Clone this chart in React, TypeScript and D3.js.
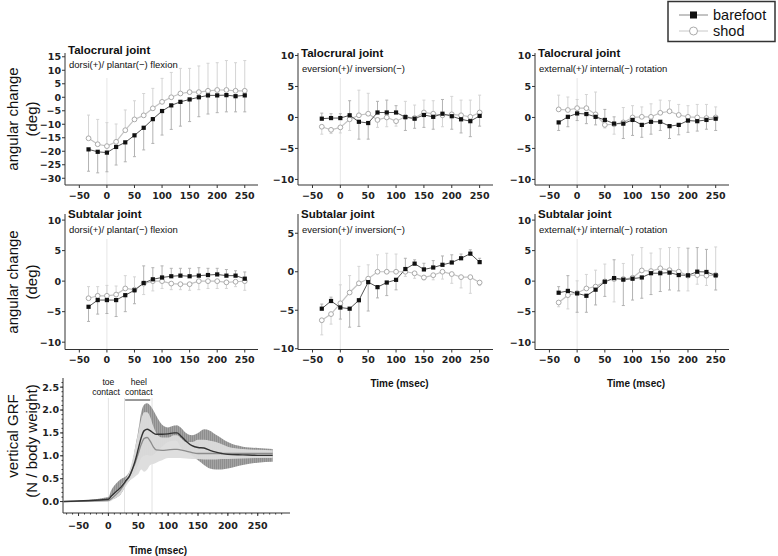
import React from 'react';
import * as d3 from 'd3';

// ---------- DATA ----------
const timePts = [-33.3, -16.7, 0, 16.7, 33.3, 50, 66.7, 83.3, 100, 116.7, 133.3, 150, 166.7, 183.3, 200, 216.7, 233.3, 250];
const xTickVals = [-50, 0, 50, 100, 150, 200, 250];

// Talocrural dorsi/plantar flexion
const tcFlexBare = [-19.3, -20.2, -20.5, -18.4, -16.7, -14.1, -11.3, -8.1, -5.1, -3.0, -1.7, -0.8, 0.0, 0.7, 0.7, 0.8, 0.4, 0.7];
const tcFlexBareSd = [8.1, 7.8, 7.1, 6.7, 7.2, 7.9, 8.2, 9.0, 8.9, 8.9, 9.0, 8.2, 7.2, 6.9, 6.4, 6.2, 5.8, 6.1];
const tcFlexShod = [-15.2, -17.4, -18.1, -16.5, -12.2, -8.2, -6.7, -4.1, -1.7, 0.0, 1.4, 1.9, 1.9, 2.4, 2.7, 2.7, 2.4, 2.4];
const tcFlexShodSd = [8.6, 9.2, 8.7, 6.6, 7.5, 6.9, 8.1, 7.4, 8.7, 9.2, 9.3, 8.8, 9.7, 10.2, 10.1, 10.9, 10.4, 11.2];

// Talocrural eversion/inversion
const tcEvBare = [-0.2, -0.1, -0.1, 0.35, -0.7, -0.9, 0.8, 0.8, 0.8, 0.05, -0.2, 0.4, 0.1, 0.6, 0.2, -0.3, -0.6, 0.25];
const tcEvBareSd = [0.9, 0.7, 0.7, 2.35, 2.8, 2.6, 1.8, 2.0, 1.1, 2.15, 1.55, 2.0, 2.0, 2.3, 2.1, 2.2, 2.5, 1.65];
const tcEvShod = [-1.5, -2.0, -1.6, -0.3, 0.35, 0.6, -0.4, 0.0, -0.6, 0.1, -0.1, 0.8, 0.6, 0.35, 0.5, 0.35, 0.1, 0.8];
const tcEvShodSd = [1.2, 0.6, 0.9, 1.8, 4.05, 3.3, 1.2, 1.5, 0.8, 2.5, 2.1, 2.0, 2.1, 1.85, 2.9, 2.45, 2.7, 2.8];

// Talocrural external/internal rotation
const tcRotBare = [-0.8, 0.1, 0.65, 0.55, 0.1, -0.4, -1.0, -1.0, -0.4, -1.2, -0.7, -0.7, -1.4, -1.2, -0.5, -0.6, -0.4, -0.2];
const tcRotBareSd = [1.3, 1.6, 1.15, 1.55, 1.3, 1.7, 1.1, 2.4, 2.5, 2.0, 2.0, 1.4, 2.0, 1.6, 1.9, 1.6, 1.5, 1.9];
const tcRotShod = [1.3, 1.2, 1.5, 1.5, 0.5, -1.2, -1.1, -0.8, 0.0, 0.1, 0.1, 0.75, 1.0, 0.4, 0.1, 0.0, -0.1, 0.0];
const tcRotShodSd = [2.3, 2.1, 1.4, 2.2, 3.6, 0.5, 1.6, 2.4, 1.9, 1.6, 2.1, 2.05, 1.7, 1.7, 1.8, 2.1, 2.2, 1.7];

// Subtalar dorsi/plantar flexion
const stFlexBare = [-4.2, -3.1, -3.1, -3.1, -2.3, -1.5, -0.3, 0.3, 0.6, 0.8, 0.9, 0.8, 0.9, 1.0, 1.1, 0.9, 0.9, 0.4];
const stFlexBareSd = [2.4, 2.3, 2.2, 2.7, 2.7, 2.2, 2.8, 1.9, 1.9, 1.3, 1.2, 1.3, 1.3, 1.1, 1.0, 1.0, 0.8, 1.1];
const stFlexShod = [-2.8, -2.4, -2.4, -2.2, -1.2, -1.4, -0.4, 0.0, 0.0, -0.4, -0.5, -0.5, 0.0, 0.0, 0.0, -0.2, -0.1, 0.0];
const stFlexShodSd = [1.9, 1.5, 1.7, 1.4, 2.1, 2.1, 1.8, 1.6, 1.2, 1.0, 0.9, 1.0, 1.4, 1.2, 1.2, 1.0, 0.8, 1.5];

// Subtalar eversion/inversion
const stEvBare = [-4.8, -3.8, -4.65, -4.8, -3.7, -1.35, -2.0, -1.4, -1.05, 0.35, 1.05, 0.3, 0.55, 0.9, 1.2, 1.75, 2.35, 1.25];
const stEvBareSd = [0.6, 0.5, 1.5, 2.4, 3.4, 3.75, 1.4, 1.7, 1.3, 1.4, 0.5, 0.8, 0.9, 1.15, 1.0, 0.55, 0.5, 0.5];
const stEvShod = [-6.3, -5.5, -4.1, -2.7, -1.5, -0.9, 0.0, 0.0, 0.0, 0.0, -0.2, -0.75, -0.45, 0.0, -0.3, -0.7, -0.7, -1.4];
const stEvShodSd = [1.9, 1.3, 2.4, 2.2, 2.2, 1.8, 2.2, 2.4, 2.3, 0.6, 0.65, 0.3, 0.6, 0.95, 1.2, 1.4, 2.1, 0.4];

// Subtalar external/internal rotation
const stRotBare = [-1.9, -1.6, -2.0, -2.4, -1.4, -0.1, 0.5, 0.25, 0.4, 0.6, 1.3, 1.3, 1.4, 1.0, 0.95, 1.55, 1.5, 0.95];
const stRotBareSd = [1.0, 2.5, 3.1, 2.7, 2.5, 2.4, 3.0, 4.25, 3.5, 3.4, 3.5, 3.0, 2.85, 2.6, 4.45, 3.95, 3.7, 2.4];
const stRotShod = [-3.5, -2.3, -1.95, -1.2, -0.9, -0.05, 0.35, 0.35, 0.55, 1.75, 1.65, 2.1, 1.8, 1.55, 0.9, 1.0, 0.9, 1.0];
const stRotShodSd = [0.7, 2.25, 2.0, 2.3, 2.7, 2.85, 3.75, 2.55, 3.75, 3.75, 2.95, 3.2, 3.7, 3.95, 2.5, 1.5, 1.6, 4.6];

const ticksFlexTop = [-30, -25, -20, -15, -10, -5, 0, 5, 10, 15];
const ticksTen = [-10, -5, 0, 5, 10];
const ticksEv = [-10, -5, 0, 5];

// Vertical GRF
const grfT = [-75, 0, 5, 10, 15, 20, 25, 30, 35, 40, 45, 50, 55, 60, 65, 70, 75, 80, 90, 100, 110, 115, 120, 130, 140, 150, 160, 170, 180, 190, 200, 225, 250, 275];
const grfBare = [0, 0.05, 0.12, 0.18, 0.24, 0.3, 0.38, 0.47, 0.55, 0.7, 0.9, 1.15, 1.4, 1.55, 1.58, 1.55, 1.5, 1.47, 1.47, 1.48, 1.5, 1.5, 1.45, 1.32, 1.22, 1.18, 1.17, 1.12, 1.08, 1.05, 1.03, 1.02, 1.01, 1.01];
const grfBareHi = [0, 0.1, 0.25, 0.35, 0.42, 0.48, 0.52, 0.56, 0.65, 0.85, 1.2, 1.55, 1.95, 2.12, 2.15, 2.1, 2.0, 1.88, 1.68, 1.62, 1.66, 1.67, 1.63, 1.5, 1.45, 1.5, 1.58, 1.55, 1.46, 1.38, 1.3, 1.2, 1.17, 1.15];
const grfBareLo = [0, 0.02, 0.04, 0.06, 0.1, 0.15, 0.25, 0.38, 0.45, 0.55, 0.65, 0.8, 0.95, 1.0, 1.02, 1.0, 1.02, 1.08, 1.2, 1.3, 1.33, 1.32, 1.2, 1.1, 1.0, 0.9, 0.8, 0.72, 0.7, 0.7, 0.72, 0.8, 0.85, 0.87];
const grfShod = [0, 0.02, 0.06, 0.12, 0.18, 0.25, 0.35, 0.45, 0.55, 0.7, 0.85, 1.05, 1.25, 1.38, 1.4, 1.32, 1.2, 1.13, 1.12, 1.13, 1.14, 1.14, 1.13, 1.1, 1.07, 1.05, 1.05, 1.05, 1.05, 1.05, 1.05, 1.05, 1.05, 1.05];
const grfShodHi = [0, 0.03, 0.1, 0.18, 0.25, 0.33, 0.42, 0.52, 0.65, 0.9, 1.2, 1.5, 1.8, 1.95, 1.95, 1.85, 1.65, 1.5, 1.4, 1.4, 1.45, 1.45, 1.4, 1.3, 1.3, 1.35, 1.35, 1.33, 1.3, 1.25, 1.2, 1.15, 1.13, 1.12];
const grfShodLo = [0, 0, 0.02, 0.06, 0.1, 0.15, 0.25, 0.35, 0.45, 0.5, 0.55, 0.6, 0.7, 0.65, 0.7, 0.8, 0.82, 0.85, 0.9, 0.95, 0.95, 0.95, 0.95, 0.94, 0.93, 0.93, 0.92, 0.92, 0.92, 0.93, 0.93, 0.94, 0.95, 0.95];
const grfTicksY = [0, 0.5, 1, 1.5, 2, 2.5];
const grfEvents = [0, 27, 73];
const heelContact = [28, 70];

// ---------- STYLE ----------
const TICK_FONT = '"DejaVu Sans", sans-serif';
const TXT_FONT = '"Liberation Sans", Arial, sans-serif';
const fmtAngle = (v: number) => (v < 0 ? '\u2212' + Math.abs(v) : String(v));

type Panel = {
  title: string; sub: string;
  bare: number[]; bareSd: number[]; shod: number[]; shodSd: number[];
  yDomain: [number, number]; yTicks: number[];
  row: number; col: number; timeLabel: boolean;
};

const panels: Panel[] = [
  { title: 'Talocrural joint', sub: 'dorsi(+)/ plantar(\u2212) flexion', bare: tcFlexBare, bareSd: tcFlexBareSd, shod: tcFlexShod, shodSd: tcFlexShodSd, yDomain: [-32.5, 16.4], yTicks: ticksFlexTop, row: 0, col: 0, timeLabel: false },
  { title: 'Talocrural joint', sub: 'eversion(+)/ inversion(\u2212)', bare: tcEvBare, bareSd: tcEvBareSd, shod: tcEvShod, shodSd: tcEvShodSd, yDomain: [-10.9, 10.4], yTicks: ticksTen, row: 0, col: 1, timeLabel: false },
  { title: 'Talocrural joint', sub: 'external(+)/ internal(\u2212) rotation', bare: tcRotBare, bareSd: tcRotBareSd, shod: tcRotShod, shodSd: tcRotShodSd, yDomain: [-10.9, 10.4], yTicks: ticksTen, row: 0, col: 2, timeLabel: false },
  { title: 'Subtalar joint', sub: 'dorsi(+)/ plantar(\u2212) flexion', bare: stFlexBare, bareSd: stFlexBareSd, shod: stFlexShod, shodSd: stFlexShodSd, yDomain: [-11.2, 11.0], yTicks: ticksTen, row: 1, col: 0, timeLabel: false },
  { title: 'Subtalar joint', sub: 'eversion(+)/ inversion(\u2212)', bare: stEvBare, bareSd: stEvBareSd, shod: stEvShod, shodSd: stEvShodSd, yDomain: [-10.1, 7.5], yTicks: ticksEv, row: 1, col: 1, timeLabel: true },
  { title: 'Subtalar joint', sub: 'external(+)/ internal(\u2212) rotation', bare: stRotBare, bareSd: stRotBareSd, shod: stRotShod, shodSd: stRotShodSd, yDomain: [-11.2, 11.0], yTicks: ticksTen, row: 1, col: 2, timeLabel: true },
];

const colX: [number, number][] = [[65, 258], [298, 493], [535, 729]];
const rowY: [number, number][] = [[53, 185], [214, 349.5]];

function AnglePanel({ p }: { p: Panel }) {
  const [x0, x1] = colX[p.col];
  const [y0, y1] = rowY[p.row];
  const x = d3.scaleLinear().domain([-76, 274]).range([x0, x1]);
  const y = d3.scaleLinear().domain(p.yDomain).range([y1, y0]);
  const lineGen = d3.line<number>().x((_, i) => x(timePts[i])).y(d => y(d));
  const bars: JSX.Element[] = [];
  timePts.forEach((t, i) => {
    const bareUp = p.bare[i] >= p.shod[i];
    const items = [
      { m: p.bare[i], sd: p.bareSd[i], up: bareUp, c: '#b2b2b2' },
      { m: p.shod[i], sd: p.shodSd[i], up: !bareUp, c: '#d4d4d4' },
    ];
    items.forEach((it, k) => {
      const end = it.up ? it.m + it.sd : it.m - it.sd;
      bars.push(
        <g key={`b${i}-${k}`} stroke={it.c} strokeWidth={1}>
          <line x1={x(t)} x2={x(t)} y1={y(it.m)} y2={y(end)} />
          <line x1={x(t) - 1.5} x2={x(t) + 1.5} y1={y(end)} y2={y(end)} />
        </g>
      );
    });
  });
  const tickY = p.row === 0 ? 198.5 : 362.5;
  return (
    <g>
      <line x1={x(0)} x2={x(0)} y1={y0 + 25} y2={y1} stroke="#e6e6e6" strokeWidth={1} />
      <line x1={x0} x2={x0} y1={y0} y2={y1} stroke="#333" strokeWidth={1} />
      <line x1={x0} x2={x1} y1={y1} y2={y1} stroke="#333" strokeWidth={1} />
      {p.yTicks.map(v => (
        <g key={`yt${v}`}>
          <line x1={x0 - 3} x2={x0} y1={y(v)} y2={y(v)} stroke="#333" />
          <text x={x0 - 4} y={y(v) + 3.4} textAnchor="end" fontFamily={TICK_FONT} fontWeight="bold" fontSize={9.5} fill="#222">{fmtAngle(v)}</text>
        </g>
      ))}
      {xTickVals.map(v => (
        <g key={`xt${v}`}>
          <line x1={x(v)} x2={x(v)} y1={y1} y2={y1 + 3} stroke="#333" />
          <text x={x(v)} y={tickY} textAnchor="middle" fontFamily={TICK_FONT} fontWeight="bold" fontSize={9.5} fill="#222">{fmtAngle(v)}</text>
        </g>
      ))}
      {bars}
      <path d={lineGen(p.shod) || ''} fill="none" stroke="#c4c4c4" strokeWidth={1.2} />
      <path d={lineGen(p.bare) || ''} fill="none" stroke="#555" strokeWidth={1} />
      {p.shod.map((v, i) => (
        <circle key={`sc${i}`} cx={x(timePts[i])} cy={y(v)} r={2.4} fill="#fff" stroke="#aaa" strokeWidth={1} />
      ))}
      {p.bare.map((v, i) => (
        <rect key={`bs${i}`} x={x(timePts[i]) - 2.1} y={y(v) - 2.1} width={4.2} height={4.2} fill="#111" />
      ))}
      <text x={x0 + 3} y={y0 + (p.row === 0 && p.col === 0 ? 1 : 4)} fontFamily={TXT_FONT} fontWeight="bold" fontSize={11.5} fill="#111">{p.title}</text>
      <text x={x0 + 4} y={y0 + (p.row === 0 && p.col === 0 ? 15 : 19)} fontFamily={TXT_FONT} fontSize={9.5} fill="#111">{p.sub}</text>
      {p.timeLabel && (
        <text x={(x0 + x1) / 2 + 4} y={387} textAnchor="middle" fontFamily={TXT_FONT} fontWeight="bold" fontSize={10} fill="#111">Time (msec)</text>
      )}
    </g>
  );
}

function GrfPanel() {
  const x0 = 63, x1 = 290, y0 = 378, y1 = 513;
  const x = d3.scaleLinear().domain([-76, 304]).range([x0, x1]);
  const y = d3.scaleLinear().domain([-0.25, 2.7]).range([y1, y0]);
  const area = (lo: number[], hi: number[]) =>
    d3.area<number>().x(d => x(d)).y0((_, i) => y(lo[i])).y1((_, i) => y(hi[i])).curve(d3.curveMonotoneX)(grfT) || '';
  const line = (v: number[]) => d3.line<number>().x(d => x(d)).y((_, i) => y(v[i])).curve(d3.curveMonotoneX)(grfT) || '';
  const minorY = d3.range(0, 2.65, 0.1);
  const minorX = d3.range(-70, 300, 10);
  return (
    <g>
      <defs>
        <pattern id="hatch" width={2} height={4} patternUnits="userSpaceOnUse">
          <rect width={2} height={4} fill="#a3a3a3" />
          <line x1={0.5} x2={0.5} y1={0} y2={4} stroke="#8e8e8e" strokeWidth={1} />
        </pattern>
      </defs>
      {grfEvents.map(t => (
        <line key={`ev${t}`} x1={x(t)} x2={x(t)} y1={y0 + 20} y2={y1} stroke="#e2e2e2" strokeWidth={1} />
      ))}
      <path d={area(grfBareLo, grfBareHi)} fill="url(#hatch)" />
      <path d={area(grfShodLo, grfShodHi)} fill="#dcdcdc" opacity={0.95} />
      <path d={line(grfShod)} fill="none" stroke="#8c8c8c" strokeWidth={1.3} />
      <path d={line(grfBare)} fill="none" stroke="#333" strokeWidth={1.4} />
      <line x1={x0} x2={x0} y1={y0} y2={y1} stroke="#333" />
      <line x1={x0} x2={x1} y1={y1} y2={y1} stroke="#333" />
      {minorY.map(v => (
        <line key={`my${v}`} x1={x0 - 1.5} x2={x0} y1={y(v)} y2={y(v)} stroke="#333" />
      ))}
      {minorX.map(v => (
        <line key={`mx${v}`} x1={x(v)} x2={x(v)} y1={y1} y2={y1 + 1.5} stroke="#333" />
      ))}
      {grfTicksY.map(v => (
        <g key={`gy${v}`}>
          <line x1={x0 - 3} x2={x0} y1={y(v)} y2={y(v)} stroke="#333" />
          <text x={x0 - 4} y={y(v) + 3.4} textAnchor="end" fontFamily={TICK_FONT} fontWeight="bold" fontSize={9.5} fill="#222">{d3.format('.1f')(v)}</text>
        </g>
      ))}
      {xTickVals.map(v => (
        <g key={`gx${v}`}>
          <line x1={x(v)} x2={x(v)} y1={y1} y2={y1 + 3} stroke="#333" />
          <text x={x(v)} y={528.5} textAnchor="middle" fontFamily={TICK_FONT} fontWeight="bold" fontSize={9.5} fill="#222">{fmtAngle(v)}</text>
        </g>
      ))}
      <text x={x(0)} y={385} textAnchor="middle" fontFamily={TXT_FONT} fontSize={8.6} fill="#111">toe</text>
      <text x={x(-4)} y={395} textAnchor="middle" fontFamily={TXT_FONT} fontSize={8.6} fill="#111">contact</text>
      <text x={x(51)} y={385} textAnchor="middle" fontFamily={TXT_FONT} fontSize={8.6} fill="#111">heel</text>
      <text x={x(51)} y={395} textAnchor="middle" fontFamily={TXT_FONT} fontSize={8.6} fill="#111">contact</text>
      <line x1={x(heelContact[0])} x2={x(heelContact[1])} y1={400} y2={400} stroke="#333" strokeWidth={1} />
      <text x={158} y={554} textAnchor="middle" fontFamily={TXT_FONT} fontWeight="bold" fontSize={10} fill="#111">Time (msec)</text>
    </g>
  );
}

export default function App() {
  return (
    <svg width={778} height={556} style={{ position: 'absolute', left: 0, top: 0, background: '#fff' }}>
      <rect width={778} height={556} fill="#fff" />
      {panels.map((p, i) => <AnglePanel key={i} p={p} />)}
      <GrfPanel />
      {[119, 282].map((cy, i) => (
        <g key={`yl${i}`}>
          <text transform={`translate(18,${cy}) rotate(-90)`} textAnchor="middle" fontFamily={TXT_FONT} fontSize={15} fill="#111">angular change</text>
          <text transform={`translate(37,${cy}) rotate(-90)`} textAnchor="middle" fontFamily={TXT_FONT} fontSize={15} fill="#111">(deg)</text>
        </g>
      ))}
      <text transform="translate(18,436) rotate(-90)" textAnchor="middle" fontFamily={TXT_FONT} fontSize={15} fill="#111">vertical GRF</text>
      <text transform="translate(37,441) rotate(-90)" textAnchor="middle" fontFamily={TXT_FONT} fontSize={15} fill="#111">(N / body weight)</text>
      <rect x={668} y={1.5} width={107} height={40} fill="#fff" stroke="#333" strokeWidth={1.5} />
      <line x1={679} x2={708} y1={15} y2={15} stroke="#888" strokeWidth={1} />
      <rect x={690} y={11.5} width={7} height={7} fill="#111" />
      <text x={713} y={20} fontFamily={TXT_FONT} fontSize={14.5} fill="#111">barefoot</text>
      <line x1={679} x2={708} y1={31} y2={31} stroke="#c8c8c8" strokeWidth={1} />
      <circle cx={693.5} cy={31} r={4} fill="#fff" stroke="#aaa" strokeWidth={1} />
      <text x={713} y={36} fontFamily={TXT_FONT} fontSize={14.5} fill="#111">shod</text>
    </svg>
  );
}
